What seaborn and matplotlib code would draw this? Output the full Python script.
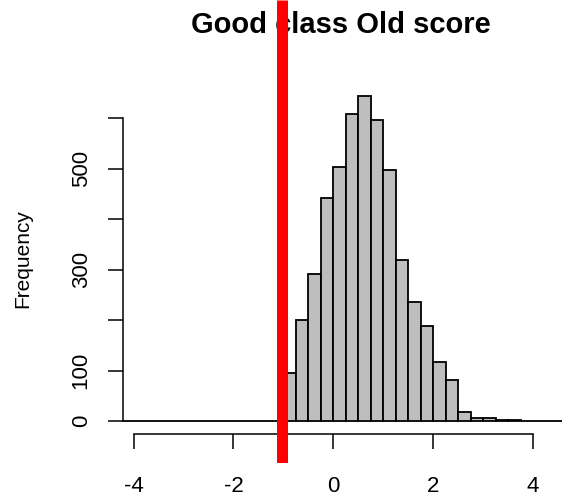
import numpy as np
import matplotlib
matplotlib.use("Agg")
import matplotlib.pyplot as plt
import seaborn as sns

# Histogram of the old score for the good class (bin width 0.25)
bin_edges = [-4.25, -4.0, -3.75, -3.5, -3.25, -3.0, -2.75, -2.5, -2.25, -2.0,
             -1.75, -1.5, -1.25, -1.0, -0.75, -0.5, -0.25, 0.0, 0.25, 0.5,
             0.75, 1.0, 1.25, 1.5, 1.75, 2.0, 2.25, 2.5, 2.75, 3.0,
             3.25, 3.5, 3.75, 4.0, 4.25, 4.5, 4.75, 5.0]
bin_counts = [0, 0, 0, 0, 0, 0, 0, 0, 0, 0,
              0, 0, 0, 95, 200, 291, 442, 504, 608, 644,
              596, 497, 320, 236, 188, 117, 81, 18, 7, 7,
              3, 3, 0, 0, 0, 0, 0]
cutoff = -1.02

x_ticks = [-4, -2, 0, 2, 4]
x_tick_labels = ["-4", "-2", "0", "2", "4"]
y_ticks = [0, 100, 200, 300, 400, 500, 600]
y_tick_labels = ["0", "100", "", "300", "", "500", ""]

sns.set_theme(style="white")
plt.rcParams["font.family"] = ["Liberation Sans", "DejaVu Sans"]
plt.rcParams["axes.unicode_minus"] = False
plt.rcParams["text.color"] = "black"
plt.rcParams["xtick.color"] = "black"
plt.rcParams["ytick.color"] = "black"
plt.rcParams["axes.labelcolor"] = "black"

W, H, DPI = 562, 499, 100
fig = plt.figure(figsize=(W / DPI, H / DPI), dpi=DPI)
fig.patch.set_facecolor("white")

# plot region in pixels
left_px, right_px, top_px, bottom_px = 123, 562, 0, 463
ax = fig.add_axes([left_px / W, 1 - bottom_px / H,
                   (right_px - left_px) / W, (bottom_px - top_px) / H])
ax.set_facecolor("white")

edges = np.array(bin_edges)
mids = (edges[:-1] + edges[1:]) / 2
sns.histplot(x=mids, weights=bin_counts, bins=bin_edges, color="#BEBEBE",
             edgecolor="black", linewidth=1.3, alpha=1, ax=ax, zorder=2)

ax.set_xlim(-4.211, 4.579)
ax.set_ylim(-82.8, 834.4)

# zero-count bins at the edges still show as a flat line along the base
left_lim = ax.get_xlim()[0]
for p in ax.patches:
    if p.get_x() >= left_lim:
        p.set_clip_on(False)

# R-style axes
for s in ["top", "right"]:
    ax.spines[s].set_visible(False)
ax.spines["left"].set_bounds(0, 600)
ax.spines["left"].set_linewidth(1.1)
ax.spines["left"].set_color("black")
ax.spines["bottom"].set_position(("data", -25.8))
ax.spines["bottom"].set_bounds(-4, 4)
ax.spines["bottom"].set_linewidth(1.1)
ax.spines["bottom"].set_color("black")

ax.set_xticks(x_ticks)
ax.set_xticklabels(x_tick_labels)
ax.set_yticks(y_ticks)
ax.set_yticklabels(y_tick_labels, rotation=90, va="center")
ax.tick_params(axis="x", direction="out", length=10.8, width=1.1,
               color="black", labelcolor="black", labelsize=16, pad=19,
               bottom=True)
ax.tick_params(axis="y", direction="out", length=10.5, width=1.1,
               color="black", labelcolor="black", labelsize=16, pad=12,
               left=True)
ax.set_xlabel("")
ax.set_ylabel("")
ax.grid(False)

# cutoff line
ax.axvline(cutoff, ymin=0, ymax=1, color="red", linewidth=7.9,
           solid_capstyle="butt", zorder=10)

ax.text((341 - left_px) / (right_px - left_px), 1 - 25 / (bottom_px - top_px),
        "Good class Old score", transform=ax.transAxes, ha="center",
        va="center", fontsize=21, fontweight="bold", color="black", zorder=1)

fig.text(23 / W, 1 - 259 / H, "Frequency", rotation=90, ha="center",
         va="center", fontsize=15, color="black")

fig.savefig("out.png", dpi=DPI, facecolor="white")
